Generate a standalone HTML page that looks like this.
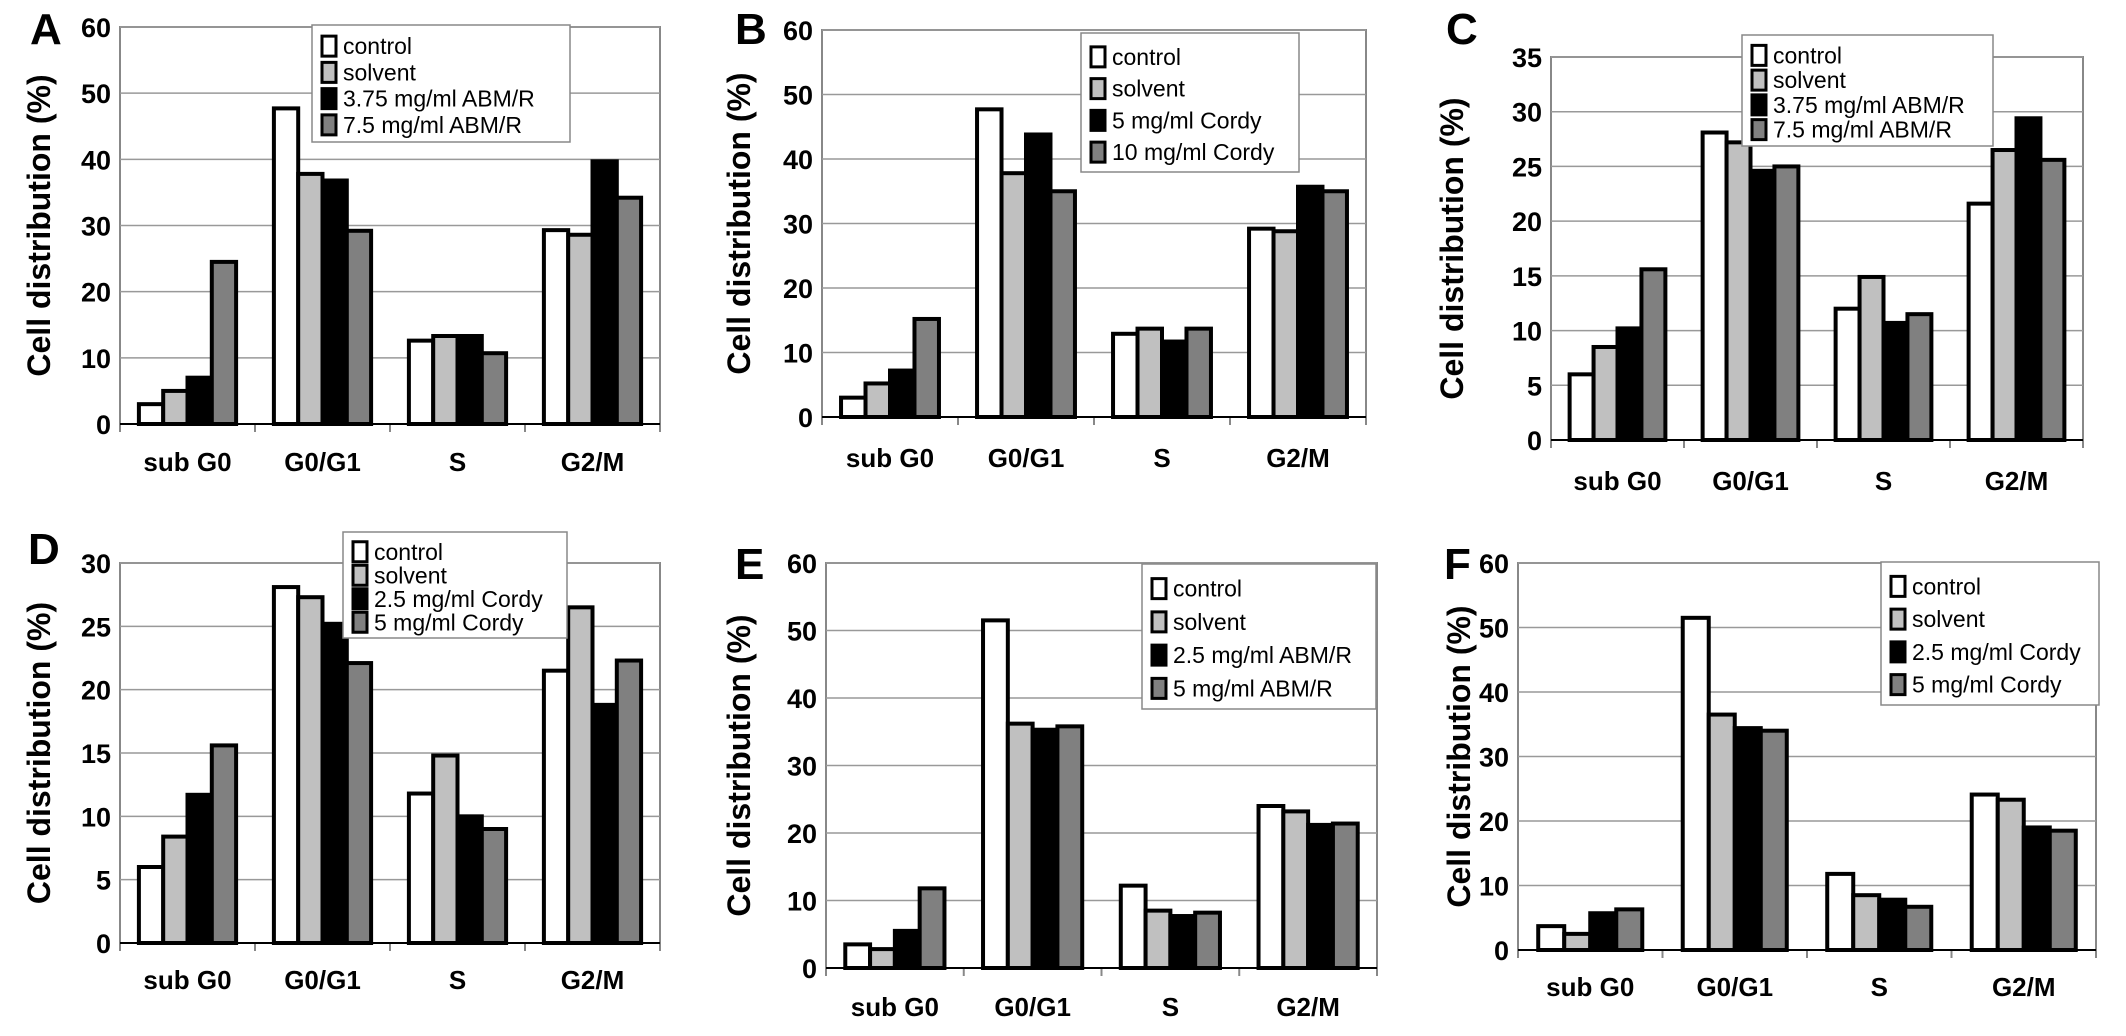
<!DOCTYPE html>
<html><head><meta charset="utf-8"><style>
body{margin:0;background:#fff;}
svg{display:block;font-family:"Liberation Sans",Arial,sans-serif;}
</style></head><body>
<svg id="fig" width="2126" height="1036" viewBox="0 0 2126 1036"></svg>
<script>
const categories = ["sub G0","G0/G1","S","G2/M"];
const seriesColors = ["#ffffff","#c0c0c0","#000000","#808080"];
const legendA = ["control","solvent","3.75 mg/ml ABM/R","7.5 mg/ml ABM/R"];
const legendB = ["control","solvent","5 mg/ml Cordy","10 mg/ml Cordy"];
const legendC = ["control","solvent","3.75 mg/ml ABM/R","7.5 mg/ml ABM/R"];
const legendD = ["control","solvent","2.5 mg/ml Cordy","5 mg/ml Cordy"];
const legendE = ["control","solvent","2.5 mg/ml ABM/R","5 mg/ml ABM/R"];
const legendF = ["control","solvent","2.5 mg/ml Cordy","5 mg/ml Cordy"];
const valuesA = [[3,5,7,24.5],[47.7,37.8,36.8,29.2],[12.6,13.3,13.3,10.7],[29.3,28.6,39.7,34.2]];
const valuesB = [[3,5.2,7.2,15.2],[47.7,37.8,43.8,35],[12.9,13.7,11.7,13.7],[29.2,28.8,35.7,35]];
const valuesC = [[6,8.5,10.2,15.6],[28.1,27.2,24.6,25],[12,14.9,10.7,11.5],[21.6,26.5,29.4,25.6]];
const valuesD = [[6,8.4,11.7,15.6],[28.1,27.3,25.2,22.1],[11.8,14.8,10,9],[21.5,26.5,18.8,22.3]];
const valuesE = [[3.5,2.8,5.5,11.8],[51.5,36.2,35.3,35.8],[12.2,8.5,7.7,8.2],[24,23.2,21.2,21.4]];
const valuesF = [[3.7,2.5,5.7,6.3],[51.5,36.5,34.4,34],[11.8,8.5,7.8,6.7],[24.1,23.3,19,18.5]];
const ticksA = [0,10,20,30,40,50,60];
const ticksB = [0,10,20,30,40,50,60];
const ticksC = [0,5,10,15,20,25,30,35];
const ticksD = [0,5,10,15,20,25,30];
const ticksE = [0,10,20,30,40,50,60];
const ticksF = [0,10,20,30,40,50,60];

const panels = [
 {id:"A",vals:valuesA,ticks:ticksA,leg:legendA,L:120,R:660,T:27,B:424,ly:461,lg:[312,25,258,117],tx:50,lx:30,lyy:44},
 {id:"B",vals:valuesB,ticks:ticksB,leg:legendB,L:822,R:1366,T:30,B:417,ly:457,lg:[1081,33,218,139],tx:750,lx:735,lyy:44},
 {id:"C",vals:valuesC,ticks:ticksC,leg:legendC,L:1551,R:2083,T:57,B:440,ly:480,lg:[1742,35,251,111],tx:1463,lx:1446,lyy:44},
 {id:"D",vals:valuesD,ticks:ticksD,leg:legendD,L:120,R:660,T:563,B:943,ly:979,lg:[343,532,224,106],tx:50,lx:28,lyy:564},
 {id:"E",vals:valuesE,ticks:ticksE,leg:legendE,L:826,R:1377,T:563,B:968,ly:1006,lg:[1142,564,234,145],tx:750,lx:735,lyy:579},
 {id:"F",vals:valuesF,ticks:ticksF,leg:legendF,L:1518,R:2096,T:563,B:950,ly:986,lg:[1881,562,218,143],tx:1470,lx:1444,lyy:579}
];
const NS="http://www.w3.org/2000/svg";
const svg=document.getElementById("fig");
function mk(tag,attrs,parent,text){const e=document.createElementNS(NS,tag);for(const k in attrs)e.setAttribute(k,attrs[k]);if(text!==undefined)e.textContent=text;(parent||svg).appendChild(e);return e;}
panels.forEach(p=>{
 const g=mk("g",{});
 
 
 const maxV=p.ticks[p.ticks.length-1];
 const y=v=>p.B-(v/maxV)*(p.B-p.T);
 const cw=(p.R-p.L)/categories.length;
 const bw=cw*0.72/4;
 const x=(ci,si)=>p.L+ci*cw+cw*0.14+si*bw;
 mk("rect",{x:p.L,y:p.T,width:p.R-p.L,height:p.B-p.T,fill:"#fff",stroke:"#888","stroke-width":2},g);
 p.ticks.forEach(t=>{
  const gl=mk("line",{x1:p.L,x2:p.R,y1:y(t),y2:y(t),stroke:"#999","stroke-width":1.5},g);
  
  
  const tl=mk("text",{x:p.L-9,y:y(t)+10,"text-anchor":"end","font-size":27,"font-weight":"bold"},g,String(t));
  
  
 });
 for(let i=0;i<=categories.length;i++){
  mk("line",{x1:p.L+i*cw,x2:p.L+i*cw,y1:p.B,y2:p.B+8,stroke:"#888","stroke-width":2},g);
 }
 categories.forEach((c,ci)=>{
  p.vals[ci].forEach((v,si)=>{
   const r=mk("rect",{x:x(ci,si),y:y(v),width:bw,height:p.B-y(v),fill:seriesColors[si],stroke:"#000","stroke-width":4},g);
   
   
  });
  const cl=mk("text",{x:p.L+(ci+0.5)*cw,y:p.ly+10,"text-anchor":"middle","font-size":26,"font-weight":"bold"},g,c);
  
  
 });
 mk("line",{x1:p.L,x2:p.R,y1:p.B,y2:p.B,stroke:"#000","stroke-width":2},g);
 const yt=mk("text",{x:p.tx,y:(p.T+p.B)/2,"text-anchor":"middle","font-size":32,"font-weight":"bold",transform:"rotate(-90 "+p.tx+" "+((p.T+p.B)/2)+")"},g,"Cell distribution (%)");
 
 
 const pl=mk("text",{x:p.lx,y:p.lyy,"font-size":44,"font-weight":"bold"},g,p.id);
 
 
 const [lx,ly,lw,lh]=p.lg;
 const lg=mk("g",{},g);
 
 
 mk("rect",{x:lx,y:ly,width:lw,height:lh,fill:"#fff",stroke:"#888","stroke-width":1.5},lg);
 const step=(lh-12)/4;
 p.leg.forEach((t,si)=>{
  const cy=ly+8+step*(si+0.5);
  mk("rect",{x:lx+10,y:cy-10,width:14,height:20,fill:seriesColors[si],stroke:"#000","stroke-width":3},lg);
  const le=mk("text",{x:lx+31,y:cy+8,"font-size":23},lg,t);
  
  
 });
});
</script>
</body></html>
